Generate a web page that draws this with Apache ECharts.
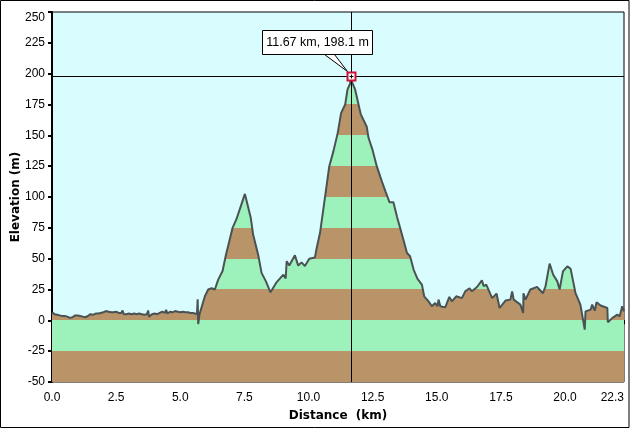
<!DOCTYPE html>
<html lang="en">
<head>
    <meta charset="UTF-8">
    <title>Elevation profile</title>
    <script src="https://cdn.jsdelivr.net/npm/echarts@6/dist/echarts.min.js"></script>
    <style>
        html, body { margin: 0; padding: 0; background: #fff; }
        #chart { width: 630px; height: 428px; }
    </style>
</head>
<body>
<div id="chart"></div>
<script>
    const distanceKm = [
        0, 0.1, 0.2, 0.3, 0.4, 0.5, 0.6, 0.7, 0.8, 0.9, 1.0, 1.1, 1.2, 1.3, 1.4, 1.5, 1.6, 1.7, 1.8, 1.9,
        2.0, 2.1, 2.2, 2.3, 2.4, 2.5, 2.6, 2.7, 2.75, 2.8, 2.9, 3.0, 3.1, 3.2, 3.3, 3.4, 3.5, 3.6, 3.7, 3.75,
        3.78, 3.9, 4.0, 4.1, 4.2, 4.3, 4.4, 4.45, 4.5, 4.6, 4.7, 4.8, 4.9, 5.0, 5.1, 5.2, 5.3, 5.4, 5.5, 5.65,
        5.68, 5.7, 5.75, 5.96, 6.09, 6.22, 6.35, 6.48, 6.65, 6.78, 6.91, 7.04, 7.19, 7.32, 7.52, 7.61, 7.75, 7.84, 8.04, 8.17,
        8.34, 8.52, 8.76, 9.02, 9.11, 9.15, 9.25, 9.47, 9.6, 9.73, 9.86, 10.03, 10.25, 10.32, 10.45, 10.64, 10.81, 10.97, 11.14, 11.27,
        11.43, 11.52, 11.62, 11.67, 11.71, 11.82, 11.95, 12.04, 12.27, 12.34, 12.5, 12.66, 12.86, 13.0, 13.16, 13.31, 13.45, 13.57, 13.7, 13.84,
        13.96, 14.1, 14.25, 14.42, 14.51, 14.68, 14.81, 14.94, 15.03, 15.07, 15.14, 15.33, 15.49, 15.59, 15.76, 15.98, 16.11, 16.28, 16.37, 16.57,
        16.76, 16.83, 16.93, 17.16, 17.33, 17.45, 17.68, 17.87, 17.94, 18.0, 18.26, 18.37, 18.38, 18.46, 18.65, 18.91, 19.14, 19.24, 19.4, 19.54,
        19.7, 19.79, 19.92, 20.09, 20.22, 20.41, 20.6, 20.77, 20.8, 21.0, 21.06, 21.16, 21.23, 21.39, 21.65, 21.67, 21.85, 22.04, 22.13, 22.23, 22.3
    ];
    const elevationM = [
        6.5, 5, 4.5, 4, 3.5, 3.5, 3, 2, 2.5, 4, 4, 3.5, 3, 2.5, 3.5, 5, 4.5, 5.5, 5.5, 6,
        6.5, 7.5, 7, 6.5, 6.5, 7, 6, 6, 8, 5, 5, 5.5, 5, 5.5, 5, 5.5, 5, 4.5, 5, 8,
        3, 5, 5.5, 5, 6, 7, 6, 8.5, 5.5, 7, 6.5, 7.5, 7, 6.5, 7, 6.5, 6.5, 6, 6, 5,
        17, -3, 5, 19.5, 25, 26, 25, 33, 40, 53, 64, 75, 82, 90, 102.5, 95, 83, 69.5, 53, 38.5,
        31.6, 22.7, 31, 37, 34, 48, 44.4, 52.7, 44.4, 47, 44, 50, 51, 58.7, 71, 99.3, 125, 137, 152, 168,
        175, 187, 192, 198.1, 192.5, 187, 175, 167, 157, 148, 138, 125, 112.7, 104.6, 95.7, 95.7, 84, 75, 65.4, 54.6,
        52, 41, 33.6, 29, 19.5, 15.4, 11.4, 14, 11.4, 16.8, 11.4, 10.5, 19, 15.4, 19.5, 18, 23.5, 26, 23.5, 27,
        32.4, 27.6, 29, 18, 21.7, 10, 16, 16.8, 23.5, 16.8, 12.7, 6, 22, 16.8, 25, 27, 22, 27.6, 46, 37,
        31.6, 25, 39.7, 43.8, 41.7, 22, 12.7, -7.5, 7.3, 8.7, 12.7, 7.8, 14.6, 12, 10, -1.6, 2, 4.6, 3.2, 11.4, 7.3
    ];
    const bandEdges = [-50, -25, 0, 25, 50, 75, 100, 125, 150, 175, 200, 250];
    const bandColors = ['#b89468', '#9df2bb', '#b89468', '#9df2bb', '#b89468', '#9df2bb', '#b89468', '#9df2bb', '#b89468', '#9df2bb', '#9df2bb'];
    const cursorKm = 11.67;
    const cursorM = 198.1;
    const cursorLabel = '11.67 km, 198.1 m';

    const profile = distanceKm.map((km, i) => [km, elevationM[i]]);
    const pieces = bandColors.map((color, i) => ({ gte: bandEdges[i], lt: bandEdges[i + 1], color: color }));
    const tickFont = { fontFamily: '"Liberation Sans", Arial, sans-serif', fontSize: 12, color: '#000' };
    const nameFont = { fontFamily: '"DejaVu Sans", Verdana, sans-serif', fontSize: 12, fontWeight: 'bold', color: '#000' };

    // callout box, pointer and cursor square, placed relative to the cursor point
    function renderCursor(params, api) {
        const p = api.coord([api.value(0), api.value(1)]);
        const x = Math.round(p[0]) + 0.5;
        const y = Math.round(p[1]) + 0.5;
        return {
            type: 'group',
            children: [
                {
                    type: 'polygon',
                    shape: { points: [[x - 27, y - 22], [x - 4, y - 5], [x - 17, y - 22]] },
                    style: { fill: '#fff', stroke: '#000', lineWidth: 1 }
                },
                {
                    type: 'rect',
                    shape: { x: x - 89, y: y - 46, width: 110, height: 24 },
                    style: { fill: '#fff', stroke: '#000', lineWidth: 1 }
                },
                {
                    type: 'text',
                    x: x - 34,
                    y: y - 34,
                    style: {
                        text: cursorLabel,
                        fill: '#000',
                        font: '12.5px "Liberation Sans", Arial, sans-serif',
                        align: 'center',
                        verticalAlign: 'middle'
                    }
                },
                {
                    type: 'rect',
                    shape: { x: x - 4, y: y - 4, width: 8, height: 8 },
                    style: { fill: '#fff', stroke: '#d01038', lineWidth: 2 }
                },
                { type: 'line', shape: { x1: x - 2, y1: y, x2: x + 2, y2: y }, style: { stroke: '#000', lineWidth: 1 } },
                { type: 'line', shape: { x1: x, y1: y - 2, x2: x, y2: y + 2 }, style: { stroke: '#000', lineWidth: 1 } }
            ]
        };
    }

    const chart = echarts.init(document.getElementById('chart'));
    chart.setOption({
        animation: false,
        graphic: [{
            type: 'rect',
            z: 100,
            silent: true,
            shape: { x: 0.5, y: 0.5, width: 628.5, height: 427 },
            style: { fill: 'none', stroke: '#000', lineWidth: 1 }
        }],
        grid: {
            left: 52,
            right: 6,
            top: 12,
            bottom: 46,
            outerBoundsMode: 'none',
            show: true,
            backgroundColor: '#d9fdfe',
            borderColor: '#000',
            borderWidth: 1
        },
        xAxis: {
            type: 'value',
            min: 0,
            max: 22.3,
            interval: 2.5,
            name: 'Distance  (km)',
            nameLocation: 'middle',
            nameGap: 28,
            nameMoveOverlap: false,
            nameTextStyle: nameFont,
            splitLine: { show: false },
            axisLine: { lineStyle: { color: '#000', width: 2 } },
            axisTick: { length: 4, lineStyle: { color: '#000', width: 2 } },
            axisLabel: {
                ...tickFont,
                margin: 10,
                alignMaxLabel: 'right',
                formatter: v => v.toFixed(1)
            }
        },
        yAxis: {
            type: 'value',
            min: -50,
            max: 250,
            interval: 25,
            name: 'Elevation (m)',
            nameLocation: 'middle',
            nameGap: 30,
            nameMoveOverlap: false,
            nameTextStyle: nameFont,
            splitLine: { show: false },
            axisLine: { lineStyle: { color: '#000', width: 2 } },
            axisTick: { length: 4, lineStyle: { color: '#000', width: 2 } },
            axisLabel: { ...tickFont, margin: 7, verticalAlignMaxLabel: 'top' }
        },
        visualMap: {
            show: false,
            type: 'piecewise',
            seriesIndex: 0,
            dimension: 1,
            pieces: pieces
        },
        series: [
            {
                type: 'line',
                data: profile,
                symbol: 'none',
                silent: true,
                lineStyle: { width: 0 },
                areaStyle: { origin: 'start', opacity: 1 },
                z: 1
            },
            {
                type: 'line',
                data: profile,
                symbol: 'none',
                silent: true,
                lineStyle: { color: '#4a5254', width: 2 },
                z: 2,
                markLine: {
                    silent: true,
                    symbol: 'none',
                    label: { show: false },
                    lineStyle: { color: '#000', width: 1, type: 'solid' },
                    data: [{ xAxis: cursorKm }, { yAxis: cursorM }]
                }
            },
            {
                type: 'custom',
                data: [[cursorKm, cursorM]],
                renderItem: renderCursor,
                silent: true,
                clip: false,
                z: 5
            }
        ]
    });
</script>
</body>
</html>
